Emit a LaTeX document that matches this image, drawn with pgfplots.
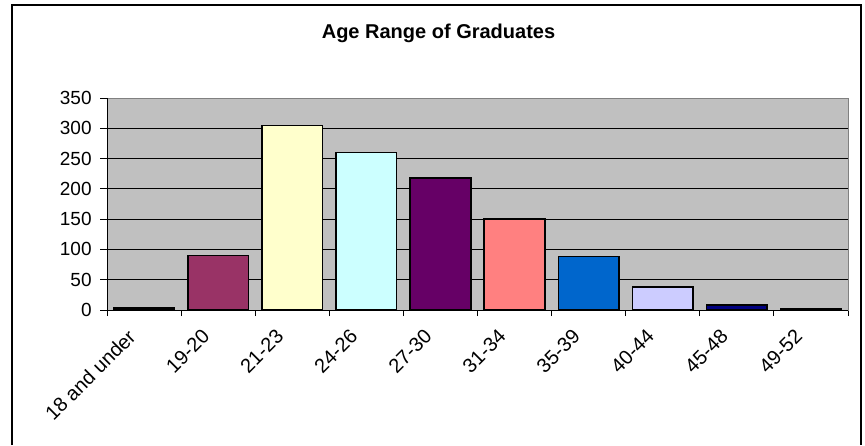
\documentclass[border=0pt]{standalone}
\usepackage{fontspec}
\setmainfont{Liberation Sans}
\usepackage{pgfplots}
\pgfplotsset{compat=1.18}
\definecolor{cA}{HTML}{9999FF}
\definecolor{cB}{HTML}{993366}
\definecolor{cC}{HTML}{FFFFCC}
\definecolor{cD}{HTML}{CCFFFF}
\definecolor{cE}{HTML}{660066}
\definecolor{cF}{HTML}{FF8080}
\definecolor{cG}{HTML}{0066CC}
\definecolor{cH}{HTML}{CCCCFF}
\definecolor{cI}{HTML}{000080}
\definecolor{cJ}{HTML}{FF00FF}
\definecolor{plotbg}{HTML}{C0C0C0}
\definecolor{axgray}{HTML}{808080}
\begin{document}
\begin{tikzpicture}[x=0.5pt,y=-0.5pt]
\useasboundingbox (0,0) rectangle (865,445);
\fill[white] (0,0) rectangle (865,445);
\draw[black, line width=0.6pt] (12,445) -- (12,5) -- (861,5) -- (861,445);
\node[anchor=base, inner sep=0pt, font=\bfseries\fontsize{10}{12}\selectfont] at (438.5,38.3) {Age Range of Graduates};
\begin{axis}[
  at={(53.5pt,-155pt)}, anchor=south west,
  width=370.5pt, height=106pt, scale only axis,
  xmin=-0.5, xmax=9.5, ymin=0, ymax=350,
  ytick={0,50,...,300},
  extra y ticks={350},
  extra y tick style={grid=none},
  xtick={0,...,9},
  xticklabels={18 and under,19-20,21-23,24-26,27-30,31-34,35-39,40-44,45-48,49-52},
  minor xtick={-0.5,0.5,...,9.5},
  major x tick style={draw=none},
  tick pos=left,
  tick align=outside,
  major tick length=3.5pt,
  minor tick length=3pt,
  tick style={black, line width=0.5pt},
  ymajorgrids,
  major grid style={black, line width=0.5pt},
  axis background/.style={fill=plotbg},
  axis line style={draw=axgray, line width=0.5pt},
  /pgf/number format/assume math mode=true,
  ticklabel style={font=\fontsize{9.5}{11}\selectfont},
  yticklabel style={inner sep=0pt, xshift=-4pt},
  xticklabel style={font=\fontsize{10}{12}\selectfont, inner sep=0pt, xshift=-8.7pt, yshift=-5.3pt, rotate=45, anchor=north east},
  clip=false,
  every axis plot/.append style={ybar, bar width=0.82, bar shift=0pt, draw=black, line width=0.75pt},
]
\addplot[fill=cA] coordinates {(0,3)};
\addplot[fill=cB] coordinates {(1,90)};
\addplot[fill=cC] coordinates {(2,305)};
\addplot[fill=cD] coordinates {(3,260)};
\addplot[fill=cE] coordinates {(4,218)};
\addplot[fill=cF] coordinates {(5,150)};
\addplot[fill=cG] coordinates {(6,88)};
\addplot[fill=cH] coordinates {(7,38)};
\addplot[fill=cI] coordinates {(8,8)};
\addplot[fill=cJ] coordinates {(9,2)};
\draw[black, line width=0.5pt] (rel axis cs:0,1) -- (rel axis cs:0,0) -- (rel axis cs:1,0);
\end{axis}
\end{tikzpicture}
\end{document}
